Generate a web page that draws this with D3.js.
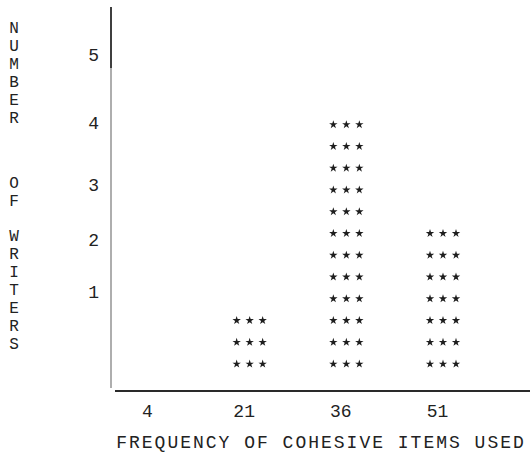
<!DOCTYPE html>
<html>
<head>
<meta charset="utf-8">
<script src="https://cdn.jsdelivr.net/npm/d3@7"></script>
<style>
  body { margin: 0; background: #fff; }
  text { font-family: "Liberation Mono", "DejaVu Sans Mono", monospace; fill: #222; }
</style>
</head>
<body>
<div id="chart"></div>
<script>
// data
const categories = ["4", "21", "36", "51"];   // frequency of cohesive items used
const starRows = [0, 3, 12, 7];               // rows of *** typed above each value
const yTickLabels = ["1", "2", "3", "4", "5"];
const yTickRows = [4.3, 6.7, 9.25, 12.1, 15.2]; // where the typist put each label, in row units
const yTitleWords = ["NUMBER", "OF", "WRITERS"];
const xTitle = "FREQUENCY OF COHESIVE ITEMS USED";

const width = 531;
const height = 460;

const svg = d3.select("#chart")
  .append("svg")
  .attr("width", width)
  .attr("height", height);

// x: one typed column per value
const x = d3.scalePoint()
  .domain(categories)
  .range([147, 437]);

// y: in rows of stars
const y = d3.scaleLinear()
  .domain([0, 17.4])
  .range([385.8, 7]);

// y axis line (gray, with the darker inked top)
svg.append("line")
  .attr("x1", 111).attr("x2", 111)
  .attr("y1", y(17.4)).attr("y2", 388)
  .attr("stroke", "#9a9a9a")
  .attr("stroke-width", 1.6);
svg.append("line")
  .attr("x1", 111).attr("x2", 111)
  .attr("y1", y(17.4)).attr("y2", y(14.6))
  .attr("stroke", "#333")
  .attr("stroke-width", 1.8);

// y tick labels
const yAxis = d3.axisLeft(y)
  .tickValues(yTickRows)
  .tickSize(0)
  .tickPadding(0)
  .tickFormat((d, i) => yTickLabels[i]);

const gy = svg.append("g")
  .attr("transform", "translate(99,0)")
  .call(yAxis);
gy.select(".domain").remove();
gy.selectAll("text")
  .style("font-family", "Liberation Mono, monospace")
  .style("font-size", "18px")
  .attr("fill", "#222");

// x axis baseline + labels
const xAxis = d3.axisBottom(x)
  .tickSize(0)
  .tickPadding(13);

const gx = svg.append("g")
  .attr("transform", "translate(0,391)")
  .call(xAxis);
gx.select(".domain")
  .attr("d", "M115,0H530")
  .attr("stroke", "#2a2a2a")
  .attr("stroke-width", 1.8);
gx.selectAll("text")
  .style("font-family", "Liberation Mono, monospace")
  .style("font-size", "18px")
  .attr("fill", "#222");

// stars: three per row
const star = d3.symbol().type(d3.symbolStar).size(22);
const stars = [];
categories.forEach((c, i) => {
  for (let r = 1; r <= starRows[i]; r++) {
    for (let k = -1; k <= 1; k++) {
      stars.push({ cat: c, row: r, k: k });
    }
  }
});

svg.append("g")
  .selectAll("path")
  .data(stars)
  .enter()
  .append("path")
  .attr("d", star)
  .attr("transform", d => `translate(${x(d.cat) + 6 + d.k * 13},${y(d.row)})`)
  .attr("fill", "#1e1e1e");

// vertical y title, one letter per typed line; each word starts where the typist rolled to
const wordTops = [28, 183, 236];
const lineStep = 18;
const letters = [];
yTitleWords.forEach((w, wi) => {
  w.split("").forEach((ch, ci) => {
    letters.push({ ch: ch, cy: wordTops[wi] + ci * lineStep });
  });
});

svg.append("g")
  .selectAll("text")
  .data(letters)
  .enter()
  .append("text")
  .attr("x", 14)
  .attr("y", d => d.cy + 5)
  .attr("text-anchor", "middle")
  .style("font-size", "16px")
  .text(d => d.ch);

// x title
svg.append("text")
  .attr("x", 321)
  .attr("y", 448)
  .attr("text-anchor", "middle")
  .style("font-size", "18px")
  .style("letter-spacing", "2px")
  .text(xTitle);
</script>
</body>
</html>
